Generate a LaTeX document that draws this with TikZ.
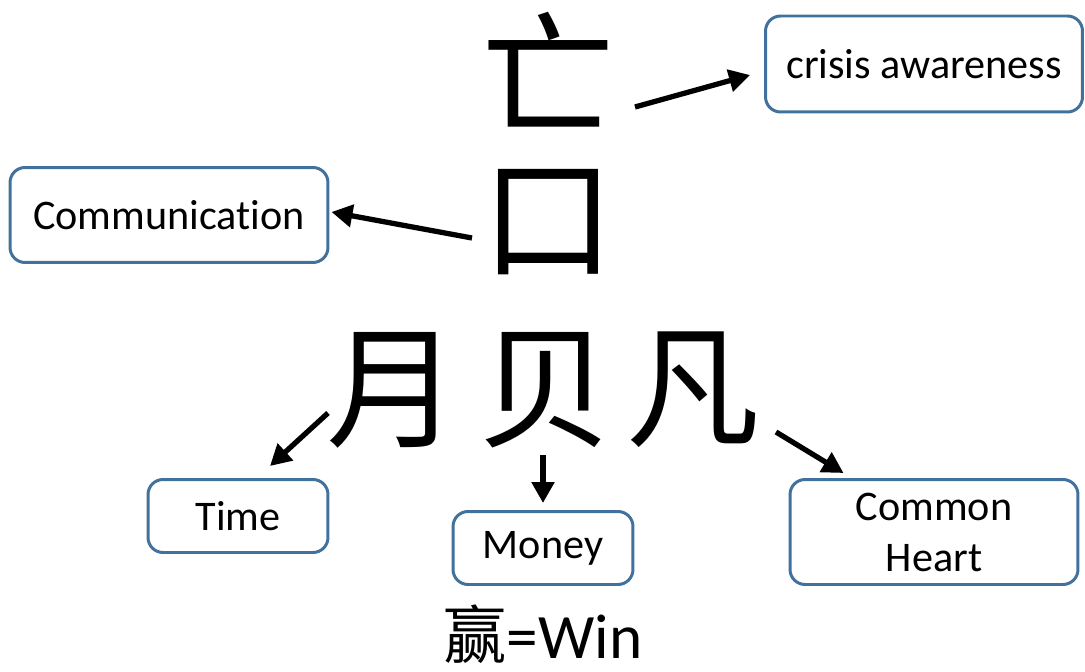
\documentclass[tikz,border=0pt]{standalone}
\usepackage{fontspec}
\setmainfont{Carlito}[Ligatures=NoCommon]
\newfontfamily\cjk{Noto Sans CJK SC}
\usepackage{tikz}
\usetikzlibrary{arrows.meta,calc}
\definecolor{boxblue}{RGB}{65,113,156}

\begin{document}
\begin{tikzpicture}[
    x=0.02cm,y=-0.02cm,
    meaning/.style={rectangle,draw=boxblue,line width=1.7pt,rounded corners=0.3cm,align=center,fill=white,font=\fontsize{24}{29}\selectfont},
    hanzi/.style={font=\cjk\fontsize{76}{76}\selectfont,inner sep=0pt},
    arr/.style={-{Triangle[length=0.42cm,width=0.44cm]},line width=3pt}
]
\useasboundingbox (0,0) rectangle (1085,672);

% the character, part by part
\node[hanzi] (wang) at (548,70) {亡};
\node[hanzi] (kou) at (548,222) {口};
\node[hanzi] (yue) at (393,390) {月};
\node[hanzi] (bei) at (545,390) {贝};
\node[hanzi] (fan) at (693,390) {凡};

% meanings
\node[meaning,minimum width=6.34cm,minimum height=1.92cm] (crisis) at (924,64) {crisis awareness};
\node[meaning,minimum width=6.36cm,minimum height=1.9cm] (comm) at (169,215) {Communication};
\node[meaning,minimum width=3.6cm,minimum height=1.46cm] (time) at (238,516) {Time};
\node[meaning,minimum width=3.6cm,minimum height=1.46cm] (money) at (543,548) {Money};
\node[meaning,minimum width=5.76cm,minimum height=2.1cm] (heart) at (934,532) {Common\\Heart};

\node[font=\fontsize{36}{36}\selectfont,inner sep=0pt] (win) at (543,634) {{\cjk 赢}=Win};

% arrow starts
\coordinate (s1) at (635,107);
\coordinate (s2) at (472,238);
\coordinate (s3) at (328,413);
\coordinate (s4) at (543,455);
\coordinate (s5) at (776,432);

\draw[arr] (s1) -- ($(crisis.west)+(-14,11)$);
\draw[arr] (s2) -- ($(comm.east)+(2,-3)$);
\draw[arr] (s3) -- ($(time.north)+(32,-12)$);
\draw[arr] (s4) -- ($(money.north)+(0,-7)$);
\draw[arr] (s5) -- ($(heart.north west)+(55,-5)$);
\end{tikzpicture}
\end{document}
